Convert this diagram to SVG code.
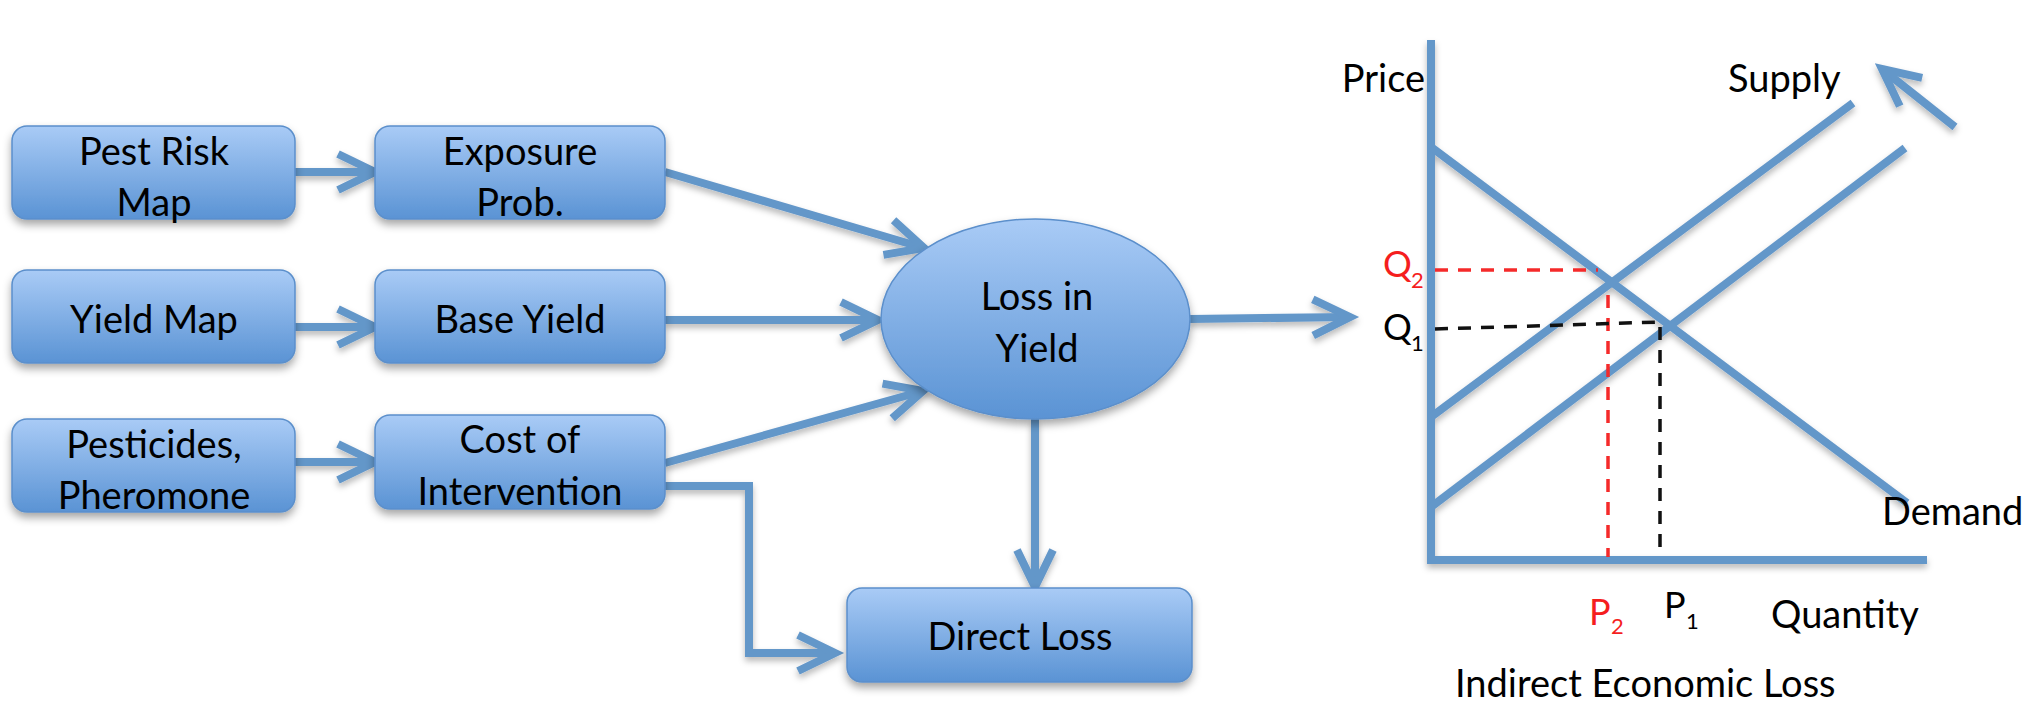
<svg xmlns="http://www.w3.org/2000/svg" width="2034" height="708" viewBox="0 0 2034 708">
<defs>
  <linearGradient id="boxGrad" x1="0" y1="0" x2="0" y2="1">
    <stop offset="0" stop-color="#a9cbf6"/>
    <stop offset="1" stop-color="#5a93d4"/>
  </linearGradient>
  <filter id="shadow" filterUnits="userSpaceOnUse" x="0" y="0" width="2034" height="708">
    <feDropShadow dx="0" dy="5" stdDeviation="4" flood-color="#000" flood-opacity="0.35"/>
  </filter>
  <filter id="lineShadow" filterUnits="userSpaceOnUse" x="0" y="0" width="2034" height="708">
    <feDropShadow dx="0" dy="4" stdDeviation="3" flood-color="#000" flood-opacity="0.28"/>
  </filter>
  <marker id="chev" markerUnits="userSpaceOnUse" viewBox="-50 -30 60 60" markerWidth="60" markerHeight="60" refX="0" refY="0" orient="auto">
    <path d="M-37,-18 L0,0 L-37,18" fill="none" stroke="#6497c9" stroke-width="8" stroke-linejoin="miter"/>
  </marker>
</defs>
<style>
  .box { fill: url(#boxGrad); stroke: #5b8fcb; stroke-width: 1.5; filter: url(#shadow); }
  .lbl { font-family: Lato, "Liberation Sans", sans-serif; font-size: 38px; fill: #000; text-anchor: middle; }
  .conn { fill: none; stroke: #6497c9; stroke-width: 8; }
  .arr { marker-end: url(#chev); }
  .axis { fill: none; stroke: #6497c9; stroke-width: 8; }
  .ctext { font-family: Lato, "Liberation Sans", sans-serif; font-size: 38px; fill: #000; }
  .qtext { font-family: Lato, "Liberation Sans", sans-serif; font-size: 36px; }
  .sub { font-family: Lato, "Liberation Sans", sans-serif; font-size: 22px; }
  .red { fill: #f51e1e; }
  .blk { fill: #000; }
  .dash-red { fill: none; stroke: #f52a2a; stroke-width: 3.5; stroke-dasharray: 13 10; }
  .dash-blk { fill: none; stroke: #111; stroke-width: 3.5; stroke-dasharray: 13 10; }
</style>

<g id="connectors" filter="url(#lineShadow)">
  <path class="conn arr" d="M295,172 L375,172"/>
  <path class="conn arr" d="M295,327 L375,327"/>
  <path class="conn arr" d="M295,462 L375,462"/>
  <path class="conn arr" d="M665,172 L924,248"/>
  <path class="conn arr" d="M665,320 L878,320"/>
  <path class="conn arr" d="M665,463 L923,391"/>
  <path class="conn arr" d="M665,486 L749,486 L749,653 L835,653"/>
  <path class="conn arr" d="M1035,419 L1035,587"/>
  <path class="conn arr" d="M1190,319 L1350,317"/>
</g>

<g id="node-pest-risk-map">
  <rect class="box" x="12" y="126" width="283" height="93" rx="15"/>
  <text class="lbl" x="154" y="165">Pest Risk</text>
  <text class="lbl" x="154" y="216">Map</text>
</g>
<g id="node-exposure-prob">
  <rect class="box" x="375" y="126" width="290" height="93" rx="15"/>
  <text class="lbl" x="520" y="165">Exposure</text>
  <text class="lbl" x="520" y="216">Prob.</text>
</g>
<g id="node-yield-map">
  <rect class="box" x="12" y="270" width="283" height="93" rx="15"/>
  <text class="lbl" x="154" y="333">Yield Map</text>
</g>
<g id="node-base-yield">
  <rect class="box" x="375" y="270" width="290" height="93" rx="15"/>
  <text class="lbl" x="520" y="333">Base Yield</text>
</g>
<g id="node-pesticides">
  <rect class="box" x="12" y="419" width="283" height="93" rx="15"/>
  <text class="lbl" x="154" y="458">Pesticides,</text>
  <text class="lbl" x="154" y="509">Pheromone</text>
</g>
<g id="node-cost-of-intervention">
  <rect class="box" x="375" y="415" width="290" height="94" rx="15"/>
  <text class="lbl" x="520" y="453">Cost of</text>
  <text class="lbl" x="520" y="505">Intervention</text>
</g>
<g id="node-loss-in-yield">
  <ellipse class="box" cx="1035.5" cy="319" rx="154.5" ry="100"/>
  <text class="lbl" x="1037" y="310">Loss in</text>
  <text class="lbl" x="1037" y="362">Yield</text>
</g>
<g id="node-direct-loss">
  <rect class="box" x="847" y="588" width="345" height="94" rx="15"/>
  <text class="lbl" x="1020" y="650">Direct Loss</text>
</g>

<g id="chart">
  <g filter="url(#lineShadow)">
    <path class="axis" d="M1431,40 L1431,560 L1927,560"/>
    <path class="axis" d="M1431,147 L1907,503"/>
    <path class="axis" d="M1431,417 L1853,103"/>
    <path class="axis" d="M1431,507 L1905,148"/>
    <path class="axis arr" d="M1955,127 L1882,69"/>
  </g>
  <path class="dash-red" d="M1435,270 L1598,270"/>
  <path class="dash-red" d="M1608,295 L1608,557"/>
  <path class="dash-blk" d="M1435,329 L1660,322 L1660,557"/>
  <text class="ctext" x="1425" y="92" text-anchor="end">Price</text>
  <text class="ctext" x="1728" y="92">Supply</text>
  <text class="ctext" x="1882" y="525">Demand</text>
  <text class="ctext" x="1771" y="628">Quantity</text>
  <text class="ctext" x="1455" y="697">Indirect Economic Loss</text>
  <text class="qtext red" x="1383" y="277">Q</text>
  <text class="sub red" x="1411" y="288">2</text>
  <text class="qtext blk" x="1383" y="340">Q</text>
  <text class="sub blk" x="1411" y="351">1</text>
  <text class="qtext red" x="1589" y="625">P</text>
  <text class="sub red" x="1611" y="634">2</text>
  <text class="qtext blk" x="1664" y="618">P</text>
  <text class="sub blk" x="1686" y="629">1</text>
</g>
</svg>
